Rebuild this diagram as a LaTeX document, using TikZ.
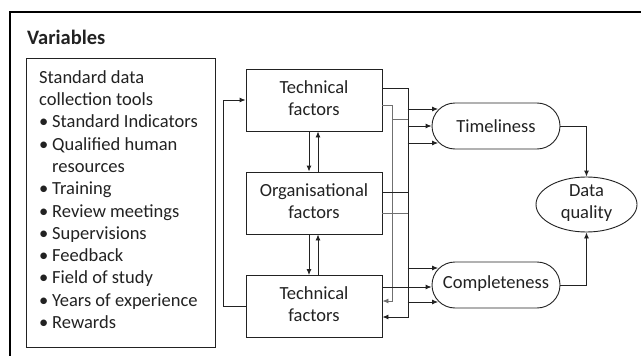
\documentclass[tikz,border=0pt]{standalone}
\usepackage{fontspec}
\setmainfont{Carlito}
\usetikzlibrary{arrows.meta,shapes.misc,shapes.geometric}
\definecolor{ink}{HTML}{222222}
\definecolor{linec}{HTML}{222222}
\definecolor{greyl}{HTML}{707070}
\newcommand\bul{\makebox[13pt][l]{•}}
\begin{document}
\begin{tikzpicture}[x=1pt,y=-1pt,
  txt/.style={font=\fontsize{18.5}{22}\selectfont, text=ink},
  box/.style={draw=linec, line width=0.9pt, minimum width=136pt, minimum height=62pt, inner sep=0pt, align=center, txt},
  pill/.style={rounded rectangle, draw=linec, line width=0.9pt, minimum width=128pt, minimum height=46pt, inner sep=0pt, txt},
  ln/.style={draw=linec, line width=0.9pt},
  gln/.style={draw=greyl, line width=0.9pt},
  arr/.style={-{Latex[length=6pt,width=5pt]}},
]
\useasboundingbox (0,0) rectangle (641,356);
\fill[white] (0,0) rectangle (641,356);
% outer frame
\draw[draw=black, line width=1.1pt] (641,12) -- (10,12) -- (10,356);
\node[anchor=base west, inner sep=0pt, text=ink, font=\bfseries\fontsize{20.5}{24}\selectfont] (title) at (27,45) {Variables};
% variables box
\node[draw=linec, line width=0.9pt, minimum width=189pt, minimum height=289pt, inner sep=0pt] (vbox) at (120.5,202.5) {};
\node[txt, align=left, anchor=north west, inner sep=0pt, font=\fontsize{18.5}{22.3}\selectfont] (vlist) at (39,68)
 {\rule{0pt}{15pt}Standard data\\collection tools\\\bul Standard Indicators\\\bul Qualified human\\\hspace*{13pt}resources\\\bul Training\\\bul Review meetings\\\bul Supervisions\\\bul Feedback\\\bul Field of study\\\bul Years of experience\\\bul Rewards};
% factor boxes
\node[box] (t1) at (314,100) {\rule{0pt}{16pt}Technical\\factors\rule[-8pt]{0pt}{8pt}};
\node[box] (org) at (314,203) {\rule{0pt}{16pt}Organisational\\factors\rule[-8pt]{0pt}{8pt}};
\node[box] (t2) at (314,306.5) {\rule{0pt}{16pt}Technical\\factors\rule[-8pt]{0pt}{8pt}};
% outcomes
\node[pill] (tl) at (496,126) {\rule[-1pt]{0pt}{15pt}Timeliness};
\node[pill] (cp) at (496,285) {\rule[-5pt]{0pt}{17pt}Completeness};
\node[ellipse, draw=linec, line width=0.9pt, minimum width=101pt, minimum height=55pt, inner sep=0pt] (dq) at (586.5,204.5) {};
\node[txt, align=center, inner sep=0pt] (dqt) at (dq.center) {\rule{0pt}{16pt}Data\\quality\rule[-11pt]{0pt}{11pt}};
% arrows between factor boxes
\draw[ln,arr] ([xshift=-5pt]t1.south) -- ([xshift=-5pt]org.north);
\draw[ln,arr] ([xshift=4pt]org.north) -- ([xshift=4pt]t1.south);
\draw[ln,arr] ([xshift=-5pt]org.south) -- ([xshift=-5pt]t2.north);
\draw[ln,arr] ([xshift=4pt]t2.north) -- ([xshift=4pt]org.south);
% feedback loop
\draw[ln,arr] (t2.west) -- ++(-22,0) |- (t1.west);
% bus lines
\draw[ln,arr] ([yshift=12pt]t1.east) -| ([xshift=26pt,yshift=-10.5pt]t2.east) -- ([yshift=-10.5pt]t2.east);
\draw[gln,arr] ([yshift=-5pt]t1.east) -| ([xshift=10pt,yshift=5.5pt]t2.east) -- ([yshift=5.5pt]t2.east);
\draw[gln] ([xshift=10pt,yshift=-19pt]t1.east) -- ++(16,0);
\draw[ln] ([yshift=11pt]org.east) -- ++(26,0);
\draw[gln] ([yshift=-10pt]org.east) -- ++(26,0);
\draw[ln,arr] ([yshift=19.5pt]t2.east) -- ([yshift=-2pt]cp.west);
% into Timeliness
\draw[ln,arr] ([xshift=-24pt,yshift=17pt]tl.west) -- ++(30.5,0);
\draw[ln,arr] ([xshift=-24pt]tl.west) -- (tl.west);
\draw[ln,arr] ([xshift=-24pt,yshift=-17pt]tl.west) -- ++(30.5,0);
% into Completeness
\draw[ln,arr] ([xshift=-24pt,yshift=17pt]cp.west) -- ++(30.5,0);
\draw[ln,arr] ([xshift=-24pt,yshift=-17pt]cp.west) -- ++(30.5,0);
% to data quality
\draw[ln,arr] (tl.east) -| (dq.north);
\draw[ln,arr] (cp.east) -| (dq.south);
\end{tikzpicture}
\end{document}
